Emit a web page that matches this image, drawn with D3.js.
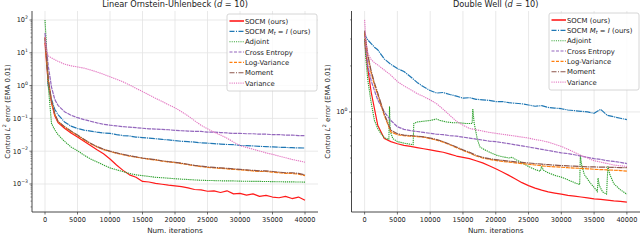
<!DOCTYPE html>
<html><head><meta charset="utf-8">
<script src="https://cdn.jsdelivr.net/npm/d3@7"></script>
<style>body{margin:0;background:#fff}svg{display:block;font-family:"DejaVu Sans",sans-serif}</style>
</head><body><svg id="c" width="640" height="251"></svg>
<script>
// ---------- data ----------
const iters = [0,200,500,1000,1500,2000,3000,4000,5000,6000,7000,8000,9000,10000,11000,12000,13000,14000,15000,16000,17000,18000,19000,20000,21000,22000,23000,24000,25000,26000,27000,28000,29000,30000,31000,32000,33000,34000,35000,36000,37000,38000,39000,40000];
const methods = ["SOCM (ours)","SOCM Mt = I (ours)","Adjoint","Cross Entropy","Log-Variance","Moment","Variance"];
const xTickValues = [0,5000,10000,15000,20000,25000,30000,35000,40000];
const ouYTickExps = [-3,-2,-1,0,1,2];
const dwYTickExps = [0];

// Linear Ornstein-Uhlenbeck
const ouSOCM = [20,6,1.2,0.3,0.12,0.075,0.05,0.036,0.027,0.020,0.015,0.011,0.0083,0.0058,0.0038,0.0026,0.0019,0.0016,0.0012,0.00115,0.00105,0.00098,0.00092,0.00088,0.00083,0.00076,0.00068,0.00066,0.00060,0.00062,0.00055,0.00062,0.00050,0.00052,0.00046,0.00050,0.00042,0.00045,0.00040,0.00038,0.00042,0.00036,0.00040,0.00032];
const ouSOCMI = [30,10,1.0,0.38,0.19,0.13,0.078,0.058,0.049,0.044,0.041,0.038,0.036,0.035,0.032,0.030,0.029,0.027,0.026,0.025,0.024,0.023,0.022,0.021,0.020,0.0195,0.019,0.018,0.0175,0.017,0.0165,0.016,0.0158,0.015,0.0148,0.0145,0.014,0.0138,0.0135,0.0132,0.013,0.0128,0.0126,0.0125];
const ouAdjoint = [100,20,1.0,0.07,0.045,0.032,0.020,0.0135,0.0103,0.0076,0.0058,0.0047,0.0038,0.0031,0.0027,0.0024,0.0021,0.0019,0.0018,0.0017,0.0016,0.00155,0.0015,0.00145,0.0014,0.00137,0.00133,0.0013,0.00128,0.00127,0.00125,0.00124,0.00124,0.00122,0.00121,0.0012,0.0012,0.00119,0.00118,0.00117,0.00116,0.00116,0.00115,0.00114];
const ouCE = [40,15,4,0.9,0.38,0.25,0.16,0.125,0.105,0.092,0.082,0.073,0.066,0.062,0.059,0.056,0.054,0.052,0.050,0.048,0.047,0.046,0.045,0.043,0.042,0.041,0.040,0.040,0.038,0.038,0.037,0.036,0.035,0.035,0.034,0.034,0.033,0.033,0.032,0.032,0.031,0.031,0.030,0.030];
const ouLV = [30,8,1.5,0.33,0.13,0.08,0.055,0.040,0.030,0.022,0.017,0.0135,0.0112,0.0098,0.0087,0.0078,0.0071,0.0066,0.0061,0.0057,0.0054,0.0050,0.0047,0.0045,0.0042,0.0039,0.0036,0.0034,0.0032,0.0031,0.0030,0.0029,0.0028,0.0027,0.0026,0.0025,0.0024,0.0024,0.0023,0.0022,0.0021,0.0021,0.0020,0.0018];
const ouMoment = [28,9,1.6,0.35,0.14,0.082,0.056,0.041,0.031,0.023,0.0175,0.0138,0.0115,0.0100,0.0089,0.0080,0.0073,0.0067,0.0062,0.0058,0.0055,0.0051,0.0048,0.0046,0.0043,0.0040,0.0037,0.0035,0.0033,0.0032,0.0031,0.0030,0.0029,0.0028,0.0027,0.0026,0.0025,0.0025,0.0024,0.0023,0.0022,0.0022,0.0021,0.0019];
const ouVariance = [30,12,8,7.0,6.2,5.5,4.5,4.0,3.7,3.4,3.0,2.6,2.2,1.85,1.55,1.3,1.05,0.82,0.66,0.52,0.41,0.33,0.26,0.21,0.16,0.12,0.085,0.062,0.048,0.038,0.031,0.025,0.019,0.0148,0.013,0.0115,0.0101,0.0089,0.0080,0.0071,0.0063,0.0056,0.0051,0.0046];

// Double Well
const dwSOCM = [3.0,2.4,1.9,1.35,1.05,0.82,0.67,0.64,0.62,0.605,0.595,0.585,0.575,0.565,0.555,0.545,0.53,0.515,0.505,0.495,0.48,0.465,0.445,0.425,0.405,0.385,0.365,0.345,0.33,0.318,0.308,0.30,0.295,0.29,0.285,0.282,0.278,0.274,0.27,0.268,0.265,0.262,0.26,0.257];
const dwSOCMI = [3.3,3.1,2.95,2.8,2.65,2.55,2.22,2.05,1.92,1.84,1.70,1.56,1.46,1.38,1.33,1.34,1.30,1.27,1.23,1.24,1.21,1.20,1.19,1.17,1.17,1.15,1.14,1.13,1.11,1.09,1.10,1.07,1.06,1.05,1.03,1.02,1.01,1.00,0.98,1.04,0.95,0.93,0.91,0.89];
const dwAdjointIters = [0,200,500,1000,1500,2000,2500,3000,3700,3800,3900,4300,5000,6000,7000,7400,7500,8000,9000,10000,11000,11500,12500,13500,14500,15500,16400,16500,16700,17200,17600,18500,19500,20200,21000,22000,22500,23000,24000,25000,26000,26800,27000,27300,28000,29000,30000,31000,32000,32800,32900,33100,33500,34500,35300,35500,35600,35800,36300,36900,37100,37400,38000,39000,40000];
const dwAdjoint = [3.0,2.2,1.6,1.15,0.88,0.78,0.72,0.68,0.66,1.08,0.75,0.67,0.64,0.625,0.615,0.61,0.84,0.86,0.87,0.88,0.90,0.88,0.86,0.85,0.85,0.84,0.84,1.05,0.85,0.66,0.59,0.56,0.535,0.52,0.51,0.50,0.505,0.49,0.465,0.44,0.42,0.41,0.44,0.415,0.40,0.385,0.375,0.36,0.345,0.335,0.52,0.45,0.39,0.34,0.31,0.30,0.37,0.33,0.30,0.29,0.44,0.39,0.34,0.31,0.29];
const dwCE = [3.2,2.6,2.0,1.6,1.38,1.2,1.0,0.88,0.80,0.77,0.755,0.745,0.735,0.725,0.715,0.71,0.70,0.695,0.685,0.675,0.665,0.655,0.645,0.64,0.63,0.62,0.61,0.60,0.59,0.58,0.57,0.56,0.55,0.54,0.535,0.525,0.515,0.505,0.495,0.49,0.48,0.475,0.468,0.46];
const dwLV = [3.3,2.8,2.3,1.8,1.5,1.3,0.95,0.74,0.71,0.70,0.695,0.69,0.685,0.67,0.655,0.635,0.61,0.585,0.56,0.54,0.515,0.50,0.49,0.482,0.475,0.47,0.465,0.46,0.455,0.45,0.445,0.44,0.438,0.435,0.432,0.43,0.428,0.425,0.422,0.42,0.418,0.416,0.414,0.41];
const dwMoment = [3.4,2.9,2.35,1.85,1.55,1.33,0.97,0.76,0.72,0.705,0.70,0.695,0.688,0.675,0.66,0.64,0.615,0.59,0.565,0.545,0.52,0.505,0.495,0.488,0.482,0.477,0.472,0.468,0.464,0.46,0.456,0.452,0.449,0.446,0.444,0.442,0.44,0.438,0.437,0.436,0.435,0.434,0.433,0.432];
const dwVariance = [4.0,2.9,2.4,2.2,2.1,2.03,1.88,1.74,1.58,1.48,1.40,1.32,1.26,1.20,1.13,1.04,0.95,0.87,0.82,0.78,0.765,0.75,0.735,0.725,0.715,0.705,0.695,0.685,0.675,0.66,0.65,0.635,0.615,0.595,0.57,0.545,0.52,0.50,0.48,0.47,0.46,0.45,0.445,0.44];

// ---------- styles ----------
const styles = [
  {color:"#ff1a1a", dash:null, legDash:null, w:1.2},
  {color:"#1f77b4", dash:"6,0.8,1.2,0.8", legDash:"5,1.5,1,1.5", w:1.2},
  {color:"#2ca02c", dash:"1.3,0.8", legDash:"1,1.2", w:1.1},
  {color:"#9467bd", dash:"4,0.8", legDash:"3,1.5", w:1.2},
  {color:"#ff7f0e", dash:"4,0.8", legDash:"3,1.5", w:1.2},
  {color:"#8c564b", dash:"6,0.8,1.2,0.8", legDash:"5,1.5,1,1.5", w:1.2},
  {color:"#e377c2", dash:"1.3,0.8", legDash:"1,1.2", w:1.1}
];
const labelParts = [
  [{t:"SOCM (ours)"}],
  [{t:"SOCM "},{t:"M",i:1},{t:"t",i:1,sub:1},{t:" = "},{t:"I",i:1},{t:" (ours)"}],
  [{t:"Adjoint"}],[{t:"Cross Entropy"}],[{t:"Log-Variance"}],[{t:"Moment"}],[{t:"Variance"}]
];

const svg = d3.select("#c");
const Y0 = 11, Y1 = 212;

function richText(sel, parts, size) {
  let shift = 0;
  parts.forEach(p => {
    const ts = sel.append("tspan").text(p.t);
    if (p.i) ts.attr("font-style","italic");
    let target = p.sub ? 1.6 : (p.sup ? -3.2 : 0);
    if (target !== shift) { ts.attr("dy", target - shift); shift = target; }
    if (p.sub || p.sup) ts.attr("font-size", size*0.7);
  });
}

function panel(cfg) {
  const g = svg.append("g");
  const x = d3.scaleLinear().domain([-2000,42000]).range([cfg.x0,cfg.x1]);
  const y = d3.scaleLog().domain(cfg.yDomain).range([Y1,Y0]);
  const clipId = "clip"+cfg.id;
  svg.append("clipPath").attr("id",clipId).append("rect")
    .attr("x",cfg.x0).attr("y",Y0).attr("width",cfg.x1-cfg.x0).attr("height",Y1-Y0);
  // grid
  g.selectAll(".vg").data(xTickValues).enter().append("line")
    .attr("x1",d=>x(d)).attr("x2",d=>x(d)).attr("y1",Y0).attr("y2",Y1)
    .attr("stroke","#e3e3e3").attr("stroke-width",0.8);
  g.selectAll(".hg").data(cfg.yExps).enter().append("line")
    .attr("x1",cfg.x0).attr("x2",cfg.x1).attr("y1",d=>y(Math.pow(10,d))).attr("y2",d=>y(Math.pow(10,d)))
    .attr("stroke","#e3e3e3").attr("stroke-width",0.8);
  // lines
  const lg = g.append("g").attr("clip-path",`url(#${clipId})`);
  const line = d3.line().x(d=>x(d[0])).y(d=>y(d[1]));
  cfg.series.forEach((s,i) => {
    const st = styles[i];
    const pts = s.xs.map((v,k)=>[v,s.ys[k]]);
    lg.append("path").attr("d",line(pts)).attr("fill","none")
      .attr("stroke",st.color).attr("stroke-width",st.w)
      .attr("stroke-dasharray",st.dash).attr("stroke-linejoin","round");
  });
  // spines
  g.append("line").attr("x1",cfg.x0).attr("x2",cfg.x0).attr("y1",Y0).attr("y2",Y1).attr("stroke","#333").attr("stroke-width",0.9);
  g.append("line").attr("x1",cfg.x0).attr("x2",cfg.x1).attr("y1",Y1).attr("y2",Y1).attr("stroke","#333").attr("stroke-width",0.9);
  // x ticks
  xTickValues.forEach(v => {
    g.append("line").attr("x1",x(v)).attr("x2",x(v)).attr("y1",Y1).attr("y2",Y1+2.5).attr("stroke","#333").attr("stroke-width",0.7);
    g.append("text").attr("x",x(v)).attr("y",222.4).attr("text-anchor","middle")
      .attr("font-size",6.6).attr("fill","#222").text(d3.format("d")(v));
  });
  // y ticks (major + minor)
  const [lo,hi] = cfg.yDomain;
  for (let e = Math.floor(Math.log10(lo)); e <= Math.ceil(Math.log10(hi)); e++) {
    for (let m = 1; m <= 9; m++) {
      const v = m*Math.pow(10,e);
      if (v < lo || v > hi) continue;
      const len = m===1 ? 2.5 : 1.5;
      g.append("line").attr("x1",cfg.x0-len).attr("x2",cfg.x0).attr("y1",y(v)).attr("y2",y(v))
        .attr("stroke","#333").attr("stroke-width",m===1?0.7:0.5);
    }
  }
  cfg.yExps.forEach(e => {
    const t = g.append("text").attr("x",cfg.x0-4).attr("y",y(Math.pow(10,e))+2.4)
      .attr("text-anchor","end").attr("font-size",6.6).attr("fill","#222");
    richText(t,[{t:"10"},{t:(e<0?"\u2212":"")+Math.abs(e),sup:1}],6.6);
  });
  // labels
  g.append("text").attr("x",(x(0)+x(40000))/2).attr("y",232.5).attr("text-anchor","middle")
    .attr("font-size",7.2).attr("fill","#222").text("Num. iterations");
  const yl = g.append("text").attr("transform",`translate(${cfg.ylx},${(Y0+Y1)/2}) rotate(-90)`)
    .attr("text-anchor","middle").attr("font-size",7).attr("fill","#222");
  richText(yl,[{t:"Control "},{t:"L",i:1},{t:"2",sup:1},{t:" error (EMA 0.01)"}],7);
  const tt = g.append("text").attr("x",(cfg.x0+cfg.x1)/2).attr("y",6.6).attr("text-anchor","middle")
    .attr("font-size",8.2).attr("fill","#222");
  richText(tt,[{t:cfg.title+" ("},{t:"d",i:1},{t:" = 10)"}],8.2);
  // legend
  const L = g.append("g");
  L.append("rect").attr("x",cfg.lx).attr("y",cfg.ly).attr("width",90).attr("height",77).attr("rx",2)
    .attr("fill","#fff").attr("fill-opacity",0.8).attr("stroke","#cccccc").attr("stroke-width",0.8);
  methods.forEach((m,i) => {
    const cy = cfg.ly + 7 + i*10.35;
    const st = styles[i];
    L.append("line").attr("x1",cfg.lx+2.5).attr("x2",cfg.lx+17).attr("y1",cy).attr("y2",cy)
      .attr("stroke",st.color).attr("stroke-width",i===0?1.6:1.1).attr("stroke-dasharray",st.legDash);
    const t = L.append("text").attr("x",cfg.lx+18).attr("y",cy+2.5).attr("font-size",6.9).attr("fill","#222");
    richText(t,labelParts[i],6.9);
  });
}

panel({id:"ou", x0:32, x1:318, yDomain:[Math.pow(10,-3.854),Math.pow(10,2.274)], yExps:ouYTickExps,
  ylx:9.5, title:"Linear Ornstein-Uhlenbeck", lx:227, ly:14,
  series:[ouSOCM,ouSOCMI,ouAdjoint,ouCE,ouLV,ouMoment,ouVariance].map(ys=>({xs:iters,ys}))});
panel({id:"dw", x0:351.5, x1:640, yDomain:[Math.pow(10,-0.654),Math.pow(10,0.660)], yExps:dwYTickExps,
  ylx:329.5, title:"Double Well", lx:549, ly:13,
  series:[
    {xs:iters,ys:dwSOCM},{xs:iters,ys:dwSOCMI},{xs:dwAdjointIters,ys:dwAdjoint},
    {xs:iters,ys:dwCE},{xs:iters,ys:dwLV},{xs:iters,ys:dwMoment},{xs:iters,ys:dwVariance}]});
</script></body></html>
